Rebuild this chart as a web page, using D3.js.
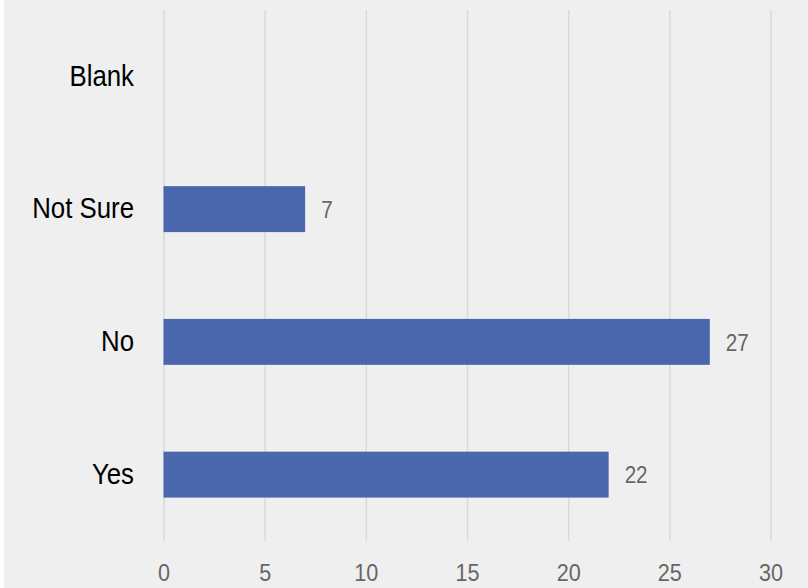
<!DOCTYPE html>
<html>
<head>
<meta charset="utf-8">
<script src="https://cdn.jsdelivr.net/npm/d3@7"></script>
<style>
  body { margin: 0; background: #ffffff; }
  svg { display: block; }
</style>
</head>
<body>
<div class="wrapper"></div>
<script>
const w = 808
const h = 588
const categories = ["Blank", "Not Sure", "No", "Yes"]
const values = [null, 7, 27, 22]
const xTicks = [0, 5, 10, 15, 20, 25, 30]

const plotLeft = 163.5
const plotRight = 770.5
const plotTop = 10
const plotBottom = 541
const font = "'Liberation Sans', Arial, sans-serif"

const xScale = d3.scaleLinear().domain([0, 30]).range([plotLeft, plotRight])
const yScale = d3.scaleBand().domain(categories).range([plotTop, plotBottom])
  .paddingInner(0.654).paddingOuter(0.327)

// the source font is condensed, so squeeze the text a bit
function squeeze(sel, s) {
  sel.each(function () {
    const t = d3.select(this)
    const x = +t.attr("x") || 0
    t.attr("x", 0).attr("transform", "translate(" + x + ",0) scale(" + s + ",1)")
  })
}

const svg = d3.select(".wrapper")
  .append("svg")
  .attr("width", w)
  .attr("height", h)

svg.append("rect")
  .attr("x", 4)
  .attr("y", 0)
  .attr("width", w - 4)
  .attr("height", h)
  .attr("fill", "#efefef")

// grid + tick labels
const xAxis = d3.axisBottom(xScale)
  .tickValues(xTicks)
  .tickSize(-(plotBottom - plotTop))
  .tickPadding(23)

const gx = svg.append("g")
  .attr("transform", "translate(0, " + plotBottom + ")")
  .call(xAxis)
gx.select(".domain").remove()
gx.selectAll("line").attr("stroke", "#d9d9d9").attr("stroke-width", 1.5)
gx.selectAll("text")
  .attr("fill", "#666666")
  .style("font-family", font)
  .style("font-size", "24px")
  .call(squeeze, 0.9)

const yAxis = d3.axisLeft(yScale).tickSize(0).tickPadding(29.5)
const gy = svg.append("g")
  .attr("transform", "translate(" + plotLeft + ", 0)")
  .call(yAxis)
gy.select(".domain").remove()
gy.selectAll("text")
  .attr("fill", "#000000")
  .style("font-family", font)
  .style("font-size", "29px")
  .call(squeeze, 0.89)

const rows = categories.map((c, i) => ({ cat: c, val: values[i] })).filter((d) => d.val !== null)

svg.selectAll("rect.bar")
  .data(rows)
  .enter()
  .append("rect")
  .attr("class", "bar")
  .attr("x", xScale(0))
  .attr("y", (d) => yScale(d.cat))
  .attr("width", (d) => xScale(d.val) - xScale(0))
  .attr("height", yScale.bandwidth())
  .attr("fill", "#4a66ad")

svg.selectAll("text.lbl")
  .data(rows)
  .enter()
  .append("text")
  .attr("class", "lbl")
  .attr("x", (d) => xScale(d.val) + 16)
  .attr("y", (d) => yScale(d.cat) + yScale.bandwidth() / 2)
  .attr("dy", "0.36em")
  .attr("fill", "#666666")
  .style("font-family", font)
  .style("font-size", "24px")
  .text((d) => d.val)
  .call(squeeze, 0.86)
</script>
</body>
</html>
